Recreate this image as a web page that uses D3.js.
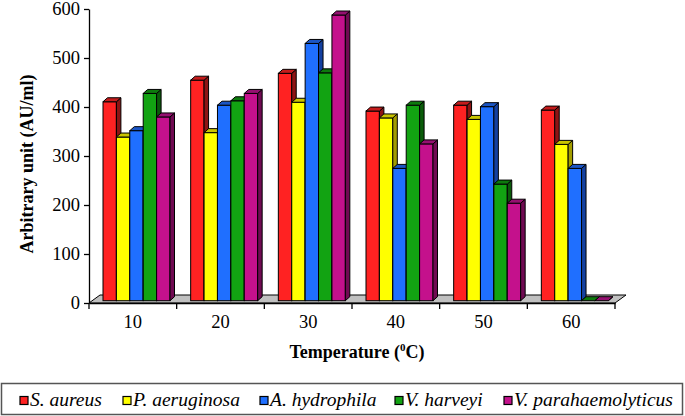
<!DOCTYPE html>
<html>
<head>
<meta charset="utf-8">
<script src="https://cdn.jsdelivr.net/npm/d3@7"></script>
<style>
  body { margin: 0; background: #fff; }
  svg { display: block; }
</style>
</head>
<body>
<svg id="chart" width="685" height="416"></svg>
<script>
const categories = ["10", "20", "30", "40", "50", "60"];
const seriesNames = ["S. aureus", "P. aeruginosa", "A. hydrophila", "V. harveyi", "V. parahaemolyticus"];
const sAureus = [406, 450, 464, 387, 399, 389];
const pAeruginosa = [334, 343, 405, 373, 370, 319];
const aHydrophila = [347, 399, 525, 270, 396, 270];
const vHarveyi = [423, 408, 465, 399, 238, 0];
const vParahaemolyticus = [375, 423, 583, 320, 199, 0];
const yTicks = [0, 100, 200, 300, 400, 500, 600];
const frontColors = ["#ff2222", "#ffff00", "#1f6fff", "#12a312", "#c4118c"];
const topColors   = ["#c41c1c", "#c9c400", "#1b55c4", "#0d7a0d", "#951070"];
const sideColors  = ["#8e1414", "#a39d00", "#1440a0", "#0a5c0a", "#700a52"];

const seriesValues = [sAureus, pAeruginosa, aHydrophila, vHarveyi, vParahaemolyticus];

const svg = d3.select("#chart");
const FONT = '"Liberation Serif"';

const x = d3.scaleBand().domain(categories).range([89, 615]).padding(0);
const y = d3.scaleLinear().domain([0, 600]).range([303, 9]);
const inner = d3.scaleBand().domain(seriesNames).range([14, 81]).padding(0);

const fdx = 11, fdy = -8;
const bdx = 4.5, bdy = -4;
const baseShift = -2.3;

const x0 = x.range()[0], x1 = x.range()[1], y0 = y(0);
svg.append("path")
  .attr("d", `M${x0},${y0} L${x1},${y0} L${x1 + fdx},${y0 + fdy} L${x0 + fdx},${y0 + fdy} Z`)
  .attr("fill", "#c0c0c0").attr("stroke", "#000").attr("stroke-width", 1);

const g = svg.append("g");
categories.forEach((c, ci) => {
  seriesNames.forEach((s, si) => {
    const v = seriesValues[si][ci];
    const bx = x(c) + inner(s);
    const bw = inner.bandwidth();
    const yb = y(0) + baseShift;
    const yt = y(v) + baseShift;
    g.append("rect").attr("x", bx).attr("y", yt).attr("width", bw).attr("height", Math.max(0, yb - yt))
      .attr("fill", frontColors[si]).attr("stroke", "#000").attr("stroke-width", 1);
    g.append("path")
      .attr("d", `M${bx + bw},${yt} L${bx + bw + bdx},${yt + bdy} L${bx + bw + bdx},${yb + bdy} L${bx + bw},${yb} Z`)
      .attr("fill", sideColors[si]).attr("stroke", "#000").attr("stroke-width", 1);
    g.append("path")
      .attr("d", `M${bx},${yt} L${bx + bw},${yt} L${bx + bw + bdx},${yt + bdy} L${bx + bdx},${yt + bdy} Z`)
      .attr("fill", topColors[si]).attr("stroke", "#000").attr("stroke-width", 1);
  });
});

const yAxis = d3.axisLeft(y).tickValues(yTicks).tickSize(5).tickSizeOuter(0).tickPadding(4);
const ya = svg.append("g").attr("transform", "translate(89,0)").call(yAxis);
ya.attr("font-family", null);
ya.select(".domain").attr("stroke", "#000").attr("stroke-width", 1.3);
ya.selectAll(".tick line").attr("stroke", "#000").attr("stroke-width", 1.3);
ya.selectAll(".tick text").style("font-family", FONT).attr("font-size", 18.5).attr("fill", "#000");

const xAxis = d3.axisBottom(x).tickSize(0).tickSizeOuter(0).tickPadding(12);
const xa = svg.append("g").attr("transform", `translate(0,${y0})`).call(xAxis);
xa.attr("font-family", null);
xa.select(".domain").attr("stroke", "#000").attr("stroke-width", 1.3);
xa.selectAll(".tick text").style("font-family", FONT).attr("font-size", 18.5).attr("fill", "#000");
const bounds = categories.map(c => x(c)).concat([x1]);
svg.append("g").selectAll("line").data(bounds).join("line")
  .attr("x1", d => d).attr("x2", d => d).attr("y1", y0).attr("y2", y0 + 6)
  .attr("stroke", "#000").attr("stroke-width", 1.3);

const xt = svg.append("text").attr("x", 357).attr("y", 358).attr("text-anchor", "middle")
  .style("font-family", FONT).attr("font-size", 18).attr("font-weight", "bold");
xt.append("tspan").text("Temperature (");
xt.append("tspan").text("0").attr("font-size", 11).attr("dy", -7);
xt.append("tspan").text("C)").attr("dy", 7);

svg.append("text").attr("transform", "translate(33,164) rotate(-90)").attr("text-anchor", "middle")
  .style("font-family", FONT).attr("font-size", 18).attr("font-weight", "bold")
  .text("Arbitrary unit (AU/ml)");

svg.append("rect").attr("x", 1.5).attr("y", 383.5).attr("width", 681).attr("height", 31)
  .attr("fill", "#fff").attr("stroke", "#555").attr("stroke-width", 1.5);
const legendX = [20, 123, 260, 395, 504];
const lg = svg.append("g").selectAll("g").data(seriesNames).join("g")
  .attr("transform", (d, i) => `translate(${legendX[i]},0)`);
lg.append("rect").attr("x", 0).attr("y", 396.5).attr("width", 8).attr("height", 8)
  .attr("fill", (d, i) => frontColors[i]).attr("stroke", "#000").attr("stroke-width", 1.2);
lg.append("text").attr("x", 10).attr("y", 406).style("font-family", FONT).attr("font-size", 19.5)
  .attr("font-style", "italic").text(d => d);
</script>
</body>
</html>
